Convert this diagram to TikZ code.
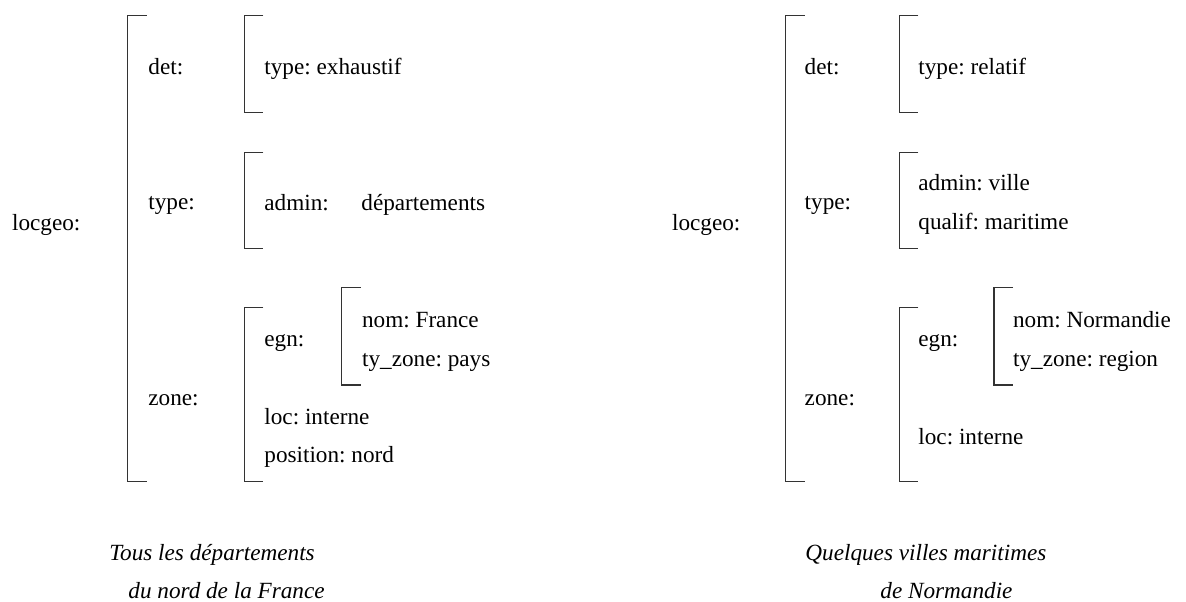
\documentclass[tikz,border=0pt]{standalone}
\usepackage{fontspec}
\setmainfont{Liberation Serif}
\usepackage{tikz}
\usetikzlibrary{positioning}
\frenchspacing

\begin{document}
\begin{tikzpicture}[x=0.5pt, y=-0.5pt, every node/.style={anchor=base west, inner sep=0pt, font=\fontsize{11.6pt}{14pt}\selectfont}, bracket/.style={draw=black!80, line width=0.7pt}, caption/.style={font=\fontsize{11.6pt}{14pt}\selectfont\itshape}]

		\useasboundingbox (0,0) rectangle (1186,601);

		\node (LG) at (11.7,230) {locgeo:};
		\draw [bracket] (146.7,15.7) -| (127.7,481.7) -- ++(19,0);

		\node (LD) at (148,74) {det:};
		\draw [bracket] (263.3,15.7) -| (244.3,112.7) -- ++(19,0);
		\node (LDT) at (264,74) {type: exhaustif};

		\node (LT) at (148,209) {type:};
		\draw [bracket] (263.3,152.3) -| (244.3,248.3) -- ++(19,0);
		\node (LTA) at (264,210) {admin:};
		\node (LTV) at (361,210) {d\'epartements};

		\node (LZ) at (148,405) {zone:};
		\draw [bracket] (263.3,307.3) -| (244.3,481.7) -- ++(19,0);
		\node (LE) at (264,346.7) {egn:};
		\draw [bracket] (360.7,287.3) -| (341.7,385) -- ++(19,0);
		\node (LEN) at (361.7,327.3) {nom: France};
		\node (LEZ) at (361.7,366.7) {ty\_zone: pays};
		\node (LZL) at (264,424) {loc: interne};
		\node (LZP) at (264,462.7) {position: nord};

		\node [caption] (LC1) at (109,560) {Tous les d\'epartements};
		\node [caption] (LC2) at (128,598.3) {du nord de la France};

		\node (RG) at (671.7,230) {locgeo:};
		\draw [bracket] (804.7,15.7) -| (785.7,481.7) -- ++(19,0);

		\node (RD) at (804.3,74) {det:};
		\draw [bracket] (918.3,15.7) -| (899.3,112.7) -- ++(19,0);
		\node (RDT) at (918,74) {type: relatif};

		\node (RT) at (804.3,209) {type:};
		\draw [bracket] (918.3,152.3) -| (899.3,248.3) -- ++(19,0);
		\node (RTA) at (918,190.7) {admin: ville};
		\node (RTQ) at (918,229.3) {qualif: maritime};

		\node (RZ) at (804.3,405) {zone:};
		\draw [bracket] (918.3,307.3) -| (899.3,481.7) -- ++(19,0);
		\node (RE) at (918,346.7) {egn:};
		\draw [bracket] (1013,287.3) -| (994,385) -- ++(19,0);
		\node (REN) at (1012.7,327.3) {nom: Normandie};
		\node (REZ) at (1012.7,366.7) {ty\_zone: region};
		\node (RZL) at (918,444) {loc: interne};

		\node [caption] (RC1) at (805,560) {Quelques villes maritimes};
		\node [caption] (RC2) at (880,598.3) {de Normandie};

\end{tikzpicture}
\end{document}
